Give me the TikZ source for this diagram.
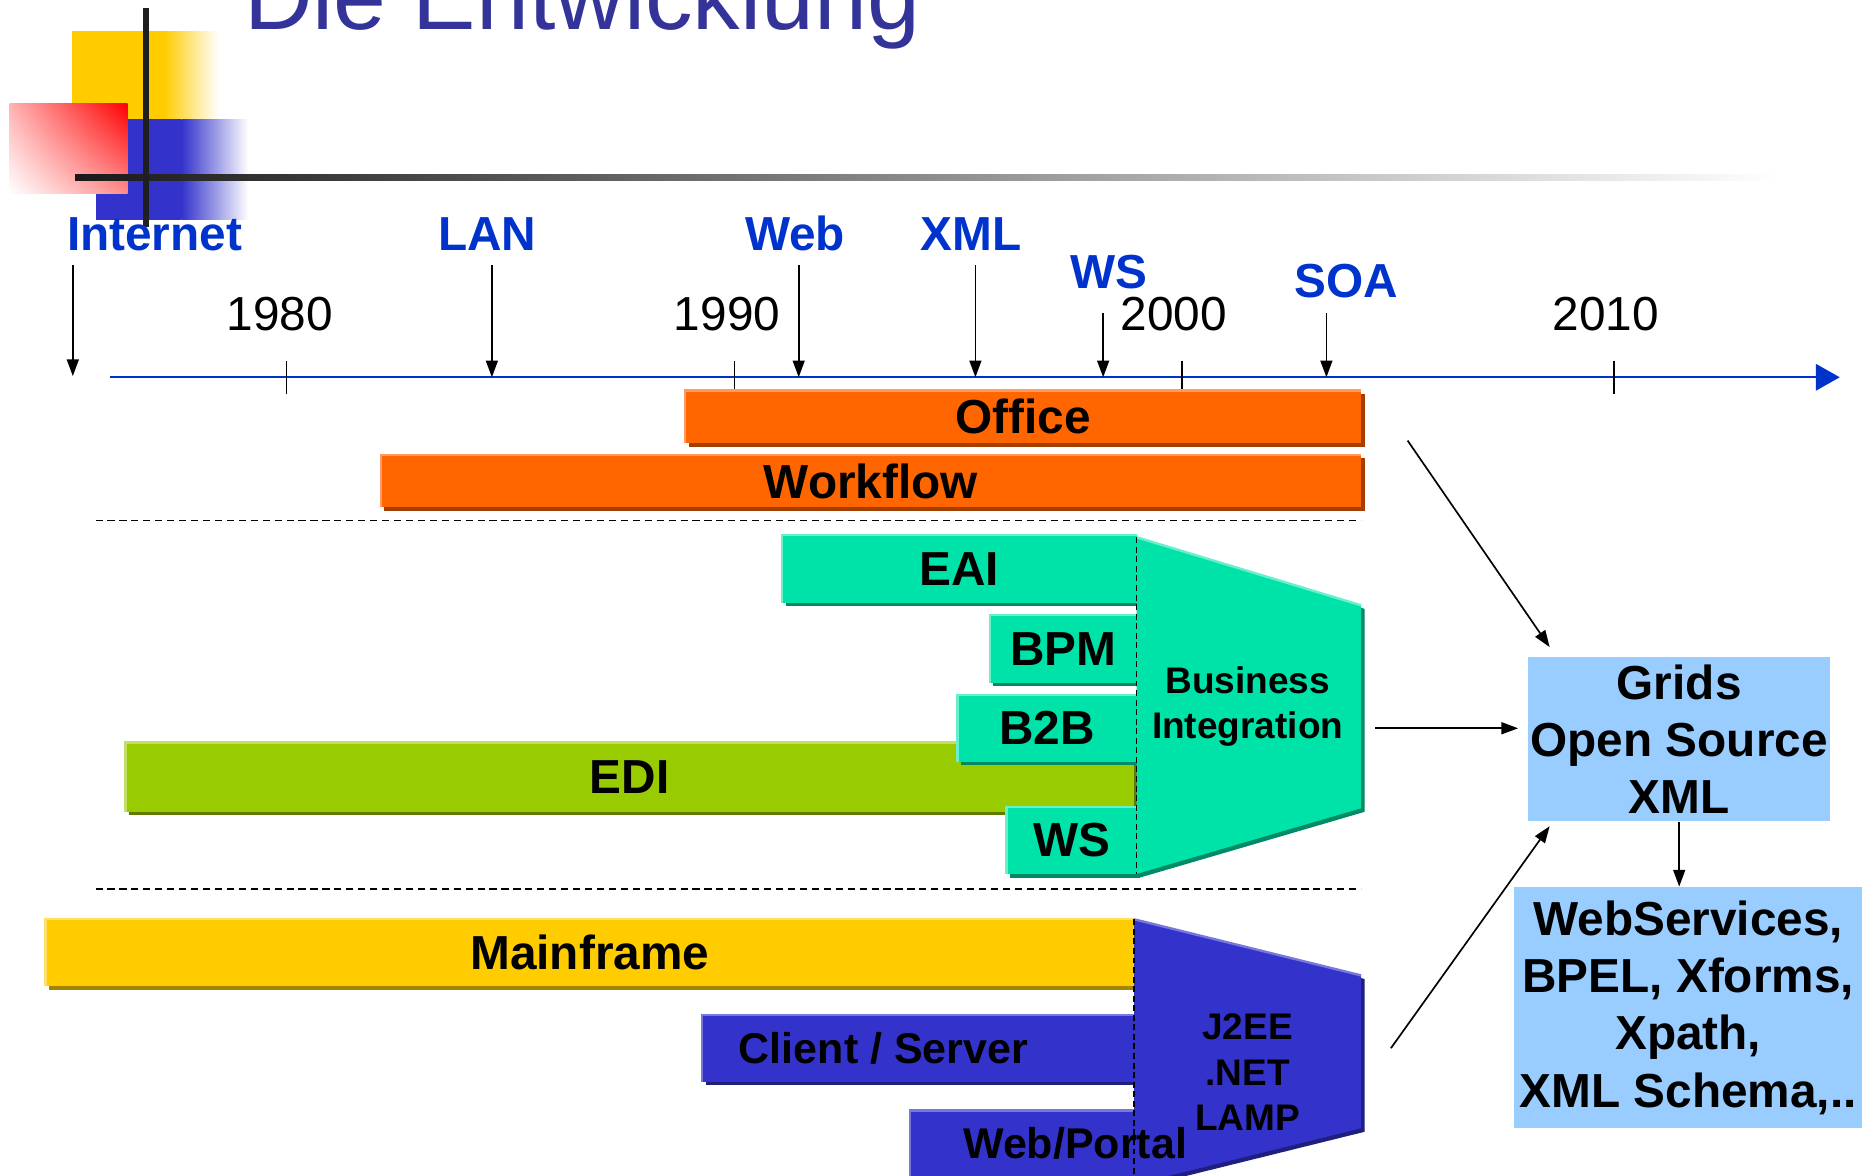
\documentclass[tikz,border=0pt]{standalone}
\usepackage{fontspec}
\setmainfont{Liberation Sans}
\usetikzlibrary{arrows.meta,shadings}
\definecolor{orangeM}{HTML}{FF6600}\definecolor{orangeD}{HTML}{A33F00}\definecolor{orangeL}{HTML}{FF9966}
\definecolor{tealM}{HTML}{00E3A8}\definecolor{tealD}{HTML}{008A66}\definecolor{tealL}{HTML}{66F0CC}
\definecolor{greenM}{HTML}{99CC00}\definecolor{greenD}{HTML}{5E7D00}\definecolor{greenL}{HTML}{C2E066}
\definecolor{yellowM}{HTML}{FFCC00}\definecolor{yellowD}{HTML}{A38300}\definecolor{yellowL}{HTML}{FFE066}
\definecolor{blueM}{HTML}{3333CC}\definecolor{blueD}{HTML}{1F1F80}\definecolor{blueL}{HTML}{7777DD}
\definecolor{lightblue}{HTML}{99CCFF}
\definecolor{evblue}{HTML}{0033CC}
\definecolor{titleblue}{HTML}{333399}
\newcommand{\mybar}[6]{%
  \fill[#6D] ({#2+3},{#3+3}) rectangle ({#4+3},{#5+3});
  \fill[#6M] (#2,#3) rectangle (#4,#5);
  \draw[#6L, line width=1pt] (#2,#5) -- (#2,#3) -- (#4,#3);
  \coordinate (#1) at ({(#2+#4)/2},{(#3+#5)/2});}
\tikzset{
  bartext/.style={font=\bfseries\fontsize{20}{24}\selectfont, inner sep=0pt},
  bartextsmall/.style={font=\bfseries\fontsize{18}{22}\selectfont, inner sep=0pt},
  evtext/.style={font=\bfseries\fontsize{20}{24}\selectfont, text=evblue, inner sep=0pt, anchor=base},
  yeartext/.style={font=\fontsize{20}{24}\selectfont, inner sep=0pt, anchor=base},
  evarrow/.style={draw=black, line width=0.7pt, -{Triangle[length=7pt,width=5pt]}},
  sectline/.style={draw=black, line width=0.8pt, dash pattern=on 3pt off 2pt},
  vdash/.style={draw=black, line width=0.7pt, dash pattern=on 2.5pt off 1.5pt},
  tick/.style={draw=black, line width=0.6pt},
  infobox/.style={fill=lightblue, inner sep=0pt, align=center, font=\bfseries\fontsize{20}{24}\selectfont},
  smalltext/.style={font=\bfseries\fontsize{15.5}{19}\selectfont, inner sep=0pt, align=center}
}
\begin{document}
\begin{tikzpicture}[x=0.5pt,y=-0.5pt]
\useasboundingbox (0,0) rectangle (1568,985);
\clip (0,0) rectangle (1568,985);
% decoration
\fill[yellowM] (60,26) rectangle (137,100);
\shade[left color=yellowM, right color=white] (137,26) rectangle (183,100);
\fill[blueM] (80,100) rectangle (152,184);
\shade[left color=blueM, right color=white] (152,100) rectangle (208,184);
\shade[upper right=red, upper left=red!30, lower right=red!45, lower left=white] (8,87) rectangle (107,162);
\shade[left color=black!90, middle color=black!45, right color=white] (63,146.5) rectangle (1490,151.5);
\fill[black!88] (120,7) rectangle (124.5,190);
\node[anchor=base west, font=\fontsize{39.8}{44}\selectfont, text=titleblue, inner sep=0pt] (title) at (204,25) {Die Entwicklung};
% timeline
\coordinate (tlS) at (92,316);
\coordinate (tlE) at (1541,316);
\draw[draw=evblue, line width=1pt, -{Triangle[length=10pt,width=11pt]}] (tlS) -- (tlE);
\foreach \x in {240,615,990,1352} \draw[tick] (\x,302) -- (\x,330);
\node[yeartext] (y1980) at (234.5,277) {1980};
\node[yeartext] (y1990) at (609,277) {1990};
\node[yeartext] (y2000) at (983,277) {2000};
\node[yeartext] (y2010) at (1345,277) {2010};
% events
\node[evtext] (internet) at (129.5,210) {Internet};
\node[evtext] (lan) at (408,210) {LAN};
\node[evtext] (web) at (666,210) {Web};
\node[evtext] (xml) at (813.5,210) {XML};
\node[evtext] (ws) at (929,242) {WS};
\node[evtext] (soa) at (1128,249) {SOA};
\coordinate (iA) at (61,222);  \coordinate (iB) at (61,315);
\coordinate (lA) at (412,222); \coordinate (lB) at (412,316);
\coordinate (wA) at (669,222); \coordinate (wB) at (669,316);
\coordinate (xA) at (817,222); \coordinate (xB) at (817,316);
\coordinate (sA) at (924,262); \coordinate (sB) at (924,316);
\coordinate (oA) at (1111,262);\coordinate (oB) at (1111,316);
\draw[evarrow] (iA) -- (iB);
\draw[evarrow] (lA) -- (lB);
\draw[evarrow] (wA) -- (wB);
\draw[evarrow] (xA) -- (xB);
\draw[evarrow] (sA) -- (sB);
\draw[evarrow] (oA) -- (oB);
% bars
\mybar{office}{574}{327}{1140}{371}{orange}
\mybar{workflow}{319}{381}{1140}{425}{orange}
\node[bartext] (tOffice) at (office) {Office};
\node[bartext] (tWorkflow) at (workflow) {Workflow};
\draw[sectline] (80,436) -- (1140,436);
\mybar{edi}{105}{622}{950}{680}{green}
\mybar{eai}{655}{448}{952}{505}{teal}
\mybar{bpm}{829}{515}{952}{572}{teal}
\mybar{btb}{802}{582}{952}{638}{teal}
\mybar{wsb}{843}{676}{952}{732}{teal}
\node[bartext] (tEdi) at (edi) {EDI};
\node[bartext] (tEai) at (eai) {EAI};
\node[bartext] (tBpm) at (bpm) {BPM};
\node[bartext] (tBtb) at (btb) {B2B};
\node[bartext] (tWs) at (wsb) {WS};
\fill[tealD] (955,453) -- (1143,510) -- (1143,680) -- (955,735) -- cycle;
\fill[tealM] (952,450) -- (1140,507) -- (1140,677) -- (952,732) -- cycle;
\draw[tealL, line width=1pt] (952,450) -- (1140,507);
\draw[vdash] (952,450) -- (952,732);
\node[smalltext] (bi) at (1045,592) {Business\\Integration};
\draw[sectline] (80,745) -- (1140,745);
\mybar{mainframe}{38}{770}{950}{826}{yellow}
\mybar{cs}{588}{850}{950}{906}{blue}
\mybar{wp}{762}{930}{950}{1000}{blue}
\node[bartext] (tMainframe) at (mainframe) {Mainframe};
\node[bartextsmall] (tCs) at (740,878) {Client / Server};
\fill[blueD] (953,773) -- (1143,820) -- (1143,948) -- (953,995) -- cycle;
\fill[blueM] (950,770) -- (1140,817) -- (1140,945) -- (950,992) -- cycle;
\draw[blueL, line width=1pt] (950,770) -- (1140,817);
\draw[vdash] (950,770) -- (950,990);
\node[smalltext] (j2ee) at (1045,898) {J2EE\\.NET\\LAMP};
\node[bartextsmall] (tWp) at (900.5,958) {Web/Portal};
% right side
\node[infobox, minimum width=126.5pt, minimum height=69pt] (grids) at (1406.5,619) {Grids\\Open Source\\XML};
\node[infobox, minimum width=146pt, minimum height=101pt] (wsbox) at (1414,844) {WebServices,\\BPEL, Xforms,\\Xpath,\\XML Schema,..};
\coordinate (a1s) at (1179,369); \coordinate (a1e) at (1298,542);
\coordinate (a2s) at (1152,610);
\coordinate (a3s) at (1165,878); \coordinate (a3e) at (1298,692);
\draw[evarrow] (a1s) -- (a1e);
\draw[evarrow, shorten >=4pt] (a2s) -- (grids.west |- a2s);
\draw[evarrow] (a3s) -- (a3e);
\draw[evarrow] (grids.south) -- (grids.south |- wsbox.north);
\end{tikzpicture}
\end{document}
